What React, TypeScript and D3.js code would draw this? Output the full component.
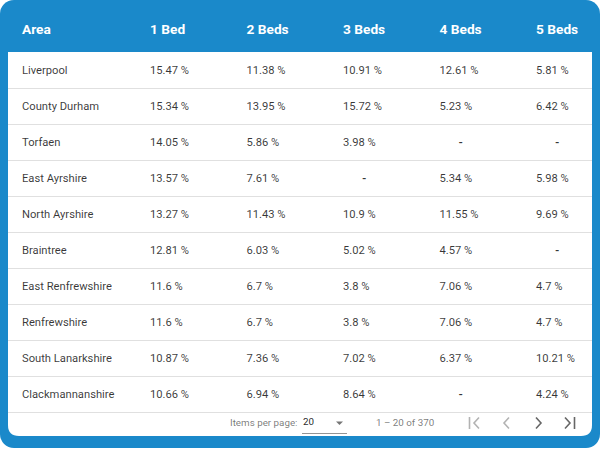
import React from "react";
import * as d3 from "d3";

// table content
const columns = ["Area", "1 Bed", "2 Beds", "3 Beds", "4 Beds", "5 Beds"];
const areas = [
  "Liverpool",
  "County Durham",
  "Torfaen",
  "East Ayrshire",
  "North Ayrshire",
  "Braintree",
  "East Renfrewshire",
  "Renfrewshire",
  "South Lanarkshire",
  "Clackmannanshire",
];
const bed1 = [15.47, 15.34, 14.05, 13.57, 13.27, 12.81, 11.6, 11.6, 10.87, 10.66];
const bed2 = [11.38, 13.95, 5.86, 7.61, 11.43, 6.03, 6.7, 6.7, 7.36, 6.94];
const bed3 = [10.91, 15.72, 3.98, null, 10.9, 5.02, 3.8, 3.8, 7.02, 8.64];
const bed4 = [12.61, 5.23, null, 5.34, 11.55, 4.57, 7.06, 7.06, 6.37, null];
const bed5 = [5.81, 6.42, null, 5.98, 9.69, null, 4.7, 4.7, 10.21, 4.24];
const series = [bed1, bed2, bed3, bed4, bed5];
const pageSize = 20;
const total = 370;

const W = 600;
const H = 450;
const BLUE = "#1a89ca";
const FONT = "Roboto, 'Noto Sans', sans-serif";

export default function App() {
  const ref = React.useRef<SVGSVGElement>(null);

  React.useEffect(() => {
    const svg = d3.select(ref.current);
    svg.selectAll("*").remove();

    // frame
    svg.append("rect").attr("x", 0).attr("y", 0).attr("width", W).attr("height", 448)
      .attr("rx", 14).attr("fill", BLUE);

    const left = 8, right = 592, top = 52, bottom = 436, r = 11;
    svg.append("path")
      .attr("d", `M${left},${top}H${right}V${bottom - r}Q${right},${bottom} ${right - r},${bottom}H${left + r}Q${left},${bottom} ${left},${bottom - r}Z`)
      .attr("fill", "#fff");

    // scales
    const y = d3.scaleBand<string>().domain(areas).range([top, 412]);
    const x = d3.scaleLinear().domain([1, 5]).range([150, 536]);
    const colX = (i: number) => (i === 0 ? 22 : x(i));

    // header
    svg.append("g").selectAll("text").data(columns).enter().append("text")
      .attr("x", (d, i) => colX(i))
      .attr("y", 29)
      .attr("dy", "0.35em")
      .attr("fill", "#fff")
      .style("font-family", FONT)
      .style("font-weight", "700")
      .style("font-size", "13.7px")
      .text((d) => d);

    // row separators
    svg.append("g").selectAll("line").data(areas).enter().append("line")
      .attr("x1", left).attr("x2", right)
      .attr("y1", (d) => y(d)! + y.bandwidth() + 0.5)
      .attr("y2", (d) => y(d)! + y.bandwidth() + 0.5)
      .attr("stroke", "#e0e0e0");

    const rows = svg.append("g").selectAll("g").data(areas).enter().append("g")
      .attr("transform", (d) => `translate(0, ${y(d)! + y.bandwidth() / 2})`)
      .style("font-family", FONT)
      .style("font-size", "11.2px")
      .attr("fill", "rgba(0,0,0,0.78)");

    rows.append("text").attr("x", colX(0)).attr("dy", "0.35em").text((d) => d);

    series.forEach((vals, si) => {
      rows.append("text")
        .attr("x", (d, i) => colX(si + 1) + (vals[i] == null ? 19 : 0))
        .attr("dy", "0.35em")
        .style("font-weight", (d, i) => (vals[i] == null ? "700" : "400"))
        .text((d, i) => (vals[i] == null ? "-" : `${vals[i]} %`));
    });

    // paginator
    const py = 423;
    const pg = svg.append("g").style("font-family", FONT).style("font-size", "9.8px");
    pg.append("text").attr("x", 230).attr("y", py).attr("dy", "0.35em")
      .attr("fill", "rgba(0,0,0,0.54)").text("Items per page:");
    pg.append("text").attr("x", 303).attr("y", py - 1).attr("dy", "0.35em")
      .attr("fill", "rgba(0,0,0,0.87)").text(String(pageSize));
    pg.append("line").attr("x1", 302).attr("x2", 347).attr("y1", 433.5).attr("y2", 433.5)
      .attr("stroke", "rgba(0,0,0,0.42)");
    pg.append("path").attr("d", "M336,421.5h7l-3.5,3.5z").attr("fill", "rgba(0,0,0,0.54)");
    pg.append("text").attr("x", 376).attr("y", py).attr("dy", "0.35em")
      .attr("fill", "rgba(0,0,0,0.54)").text(`1 \u2013 ${pageSize} of ${total}`);

    const icon = (d: string, col: string) =>
      pg.append("path").attr("d", d).attr("fill", "none").attr("stroke", col)
        .attr("stroke-width", 1.6);
    const dis = "rgba(0,0,0,0.3)";
    const en = "rgba(0,0,0,0.6)";
    icon("M469.5,417v12M479,417.5l-5,5.5l5,5.5", dis);
    icon("M509,417.5l-5,5.5l5,5.5", dis);
    icon("M536,417.5l5,5.5l-5,5.5", en);
    icon("M565,417.5l5,5.5l-5,5.5M574.5,417v12", en);
  }, []);

  return (
    <svg ref={ref} width={W} height={H} style={{ position: "absolute", left: 0, top: 0, display: "block" }} />
  );
}
